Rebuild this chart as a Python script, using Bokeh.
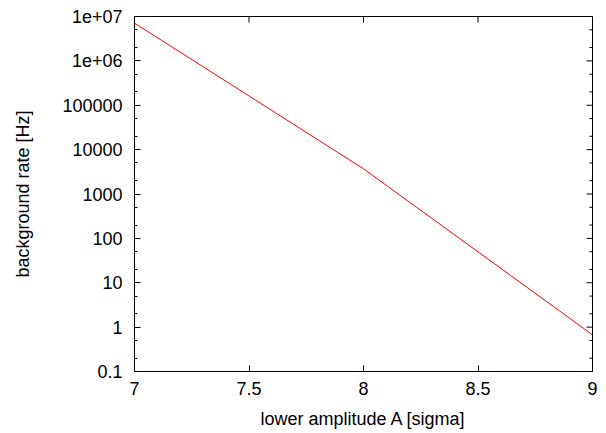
import math
from bokeh.plotting import figure
from bokeh.models import FixedTicker
from bokeh.embed import file_html
from bokeh.resources import INLINE

# data
amplitude = [7.0, 8.0, 9.0]
rate = [7.1e6, 3.7e3, 0.67]

x_ticks = [7.0, 7.5, 8.0, 8.5, 9.0]
x_tick_labels = ["7", "7.5", "8", "8.5", "9"]
y_ticks = [1e-1, 1e0, 1e1, 1e2, 1e3, 1e4, 1e5, 1e6, 1e7]
y_tick_labels = ["0.1", "1", "10", "100", "1000", "10000", "100000", "1e+06", "1e+07"]
y_minor = [m * t for t in y_ticks[:-1] for m in (2, 5)]

x_min, x_max = x_ticks[0], x_ticks[-1]
y_min, y_max = y_ticks[0], y_ticks[-1]

FONT = "Liberation Sans"
FS = "18px"

p = figure(width=606, height=433, y_axis_type="log",
           x_range=(x_min, x_max), y_range=(y_min, y_max),
           output_backend="svg", toolbar_location=None,
           min_border_left=134, min_border_right=14, min_border_top=16, min_border_bottom=62)
p.grid.visible = False
p.outline_line_color = "black"
p.outline_line_width = 1
p.background_fill_color = "white"
p.border_fill_color = "white"

p.line(amplitude, rate, line_color="#ff0000", line_width=1)

# mirrored ticks on the right and top (gnuplot style)
p.ray(x=[x_max] * len(y_ticks), y=y_ticks, length=6, length_units="screen",
      angle=math.pi, line_color="black", line_width=1)
p.ray(x=[x_max] * len(y_minor), y=y_minor, length=3, length_units="screen",
      angle=math.pi, line_color="black", line_width=1)
p.ray(x=x_ticks, y=[y_max] * len(x_ticks), length=6, length_units="screen",
      angle=-math.pi / 2, line_color="black", line_width=1)

def style(ax):
    ax.major_tick_in = 6
    ax.major_tick_out = 0
    ax.minor_tick_in = 3
    ax.minor_tick_out = 0
    ax.axis_line_color = "black"
    ax.major_tick_line_color = "black"
    ax.minor_tick_line_color = "black"
    ax.major_label_text_font = FONT
    ax.major_label_text_color = "black"
    ax.major_label_text_font_size = FS
    ax.axis_label_text_font = FONT
    ax.axis_label_text_font_style = "normal"
    ax.axis_label_text_color = "black"
    ax.axis_label_text_font_size = FS

xa = p.xaxis[0]
xa.ticker = FixedTicker(ticks=x_ticks)
xa.major_label_overrides = {t: l for t, l in zip(x_ticks, x_tick_labels)}
xa.axis_label = "lower amplitude A [sigma]"
style(xa)
xa.major_label_standoff = 10
xa.axis_label_standoff = 11

ya = p.yaxis[0]
ya.ticker = FixedTicker(ticks=y_ticks, minor_ticks=y_minor)
ya.major_label_overrides = {t: l for t, l in zip(y_ticks, y_tick_labels)}
ya.axis_label = "background rate [Hz]"
style(ya)
ya.major_label_standoff = 12
ya.axis_label_standoff = 26

open("out.html", "w").write(file_html(p, INLINE))
